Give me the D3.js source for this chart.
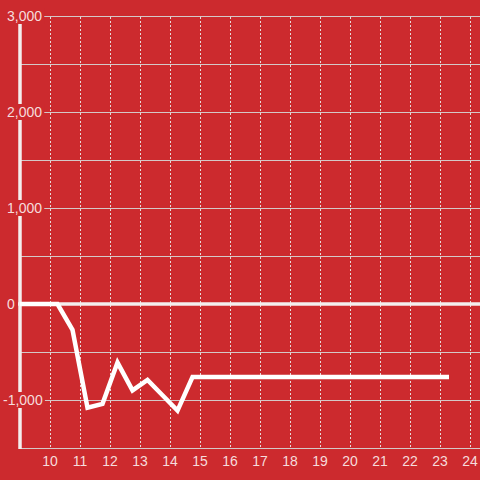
<!DOCTYPE html>
<html>
<head>
<meta charset="utf-8">
<script src="https://cdn.jsdelivr.net/npm/d3@7"></script>
<style>
html,body{margin:0;padding:0;background:#cc2a2e;}
svg{display:block;}
text{font-family:"Liberation Sans",Arial,sans-serif;font-size:14px;fill:#f6dcdc;}
</style>
</head>
<body>
<svg id="chart" width="480" height="480"></svg>
<script>
const xValues = [9, 10.25, 10.75, 11.25, 11.75, 12.25, 12.75, 13.25, 13.75, 14.25, 14.75, 23.3];
const yValues = [0, 0, -270, -1080, -1040, -610, -900, -790, -950, -1110, -760, -760];
const xTicks = [10, 11, 12, 13, 14, 15, 16, 17, 18, 19, 20, 21, 22, 23, 24];
const yMajorTicks = [-1000, 0, 1000, 2000, 3000];
const yGridTicks = [-1500, -1000, -500, 0, 500, 1000, 1500, 2000, 2500, 3000];

const W = 480, H = 480;
const bg = "#cc2a2e";
const svg = d3.select("#chart");
svg.append("rect").attr("width", W).attr("height", H).attr("fill", bg);

const x = d3.scaleLinear().domain([9, 24 + 1/3]).range([20, 480]);
const y = d3.scaleLinear().domain([-1500, 3000]).range([448, 16]);

// horizontal gridlines
svg.append("g").selectAll("line").data(yGridTicks.filter(d => d !== 0)).join("line")
  .attr("x1", x(9)).attr("x2", W)
  .attr("y1", d => Math.round(y(d)) + 0.5).attr("y2", d => Math.round(y(d)) + 0.5)
  .attr("stroke", "#d4c8c8").attr("stroke-width", 1);

// vertical dashed gridlines
svg.append("g").selectAll("line").data(xTicks).join("line")
  .attr("x1", d => Math.round(x(d)) + 0.5).attr("x2", d => Math.round(x(d)) + 0.5)
  .attr("y1", y(3000) + 1).attr("y2", y(-1500))
  .attr("stroke", "#e6dada").attr("stroke-width", 1).attr("stroke-dasharray", "2,2");

// y axis line
svg.append("line")
  .attr("x1", x(9)).attr("x2", x(9))
  .attr("y1", y(3000)).attr("y2", y(-1500) + 1)
  .attr("stroke", "#f4eeee").attr("stroke-width", 3.5);

// zero line
svg.append("line")
  .attr("x1", 18).attr("x2", W)
  .attr("y1", y(0)).attr("y2", y(0))
  .attr("stroke", "#f4eeee").attr("stroke-width", 3.5);

// data line
const pts = xValues.map((v, i) => [v, yValues[i]]);
svg.append("path")
  .datum(pts)
  .attr("d", d3.line().x(d => x(d[0])).y(d => y(d[1])))
  .attr("fill", "none").attr("stroke", "#ffffff").attr("stroke-width", 4.5)
  .attr("stroke-linejoin", "miter");

// y labels with background boxes
const fmt = d3.format(",");
const yl = svg.append("g");
yMajorTicks.forEach(v => {
  const g = yl.append("g");
  const t = g.append("text")
    .attr("x", v < 0 ? 3 : 7)
    .attr("y", y(v))
    .attr("dy", "0.36em")
    .attr("text-anchor", "start")
    .text(fmt(v).replace("−", "-"));
  const bb = t.node().getBBox();
  g.insert("rect", "text")
    .attr("x", bb.x - 1).attr("y", y(v) - 8)
    .attr("width", v === 0 ? bb.width + 1 : bb.width + 3).attr("height", 16)
    .attr("fill", bg);
});

// x labels
svg.append("g").selectAll("text").data(xTicks).join("text")
  .attr("x", d => x(d)).attr("y", 466)
  .attr("text-anchor", "middle")
  .text(d => d);
</script>
</body>
</html>
